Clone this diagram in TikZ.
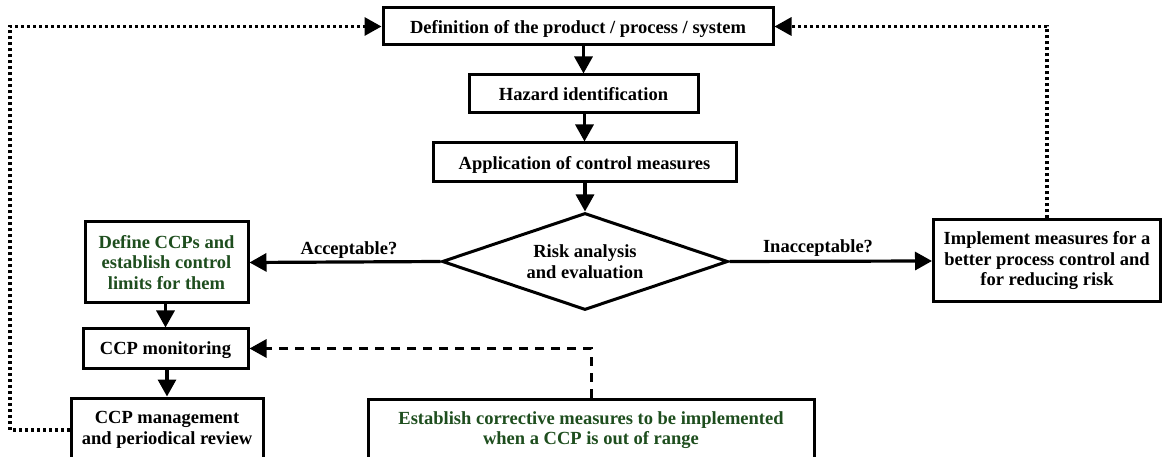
\documentclass[tikz,border=0pt]{standalone}
\usepackage{fontspec}
\setmainfont{Liberation Serif}
\usetikzlibrary{shapes.geometric,arrows.meta}
\definecolor{dkgreen}{RGB}{30,78,30}
\tikzset{
  box/.style={draw, line width=3pt, rectangle, inner sep=0pt, align=center,
    font=\fontsize{18.5}{20.5}\selectfont\bfseries, fill=white},
  oneline/.style={text depth=0pt},
  greentext/.style={text=dkgreen},
  lbl/.style={font=\fontsize{18.5}{20.5}\selectfont\bfseries, inner sep=0pt},
  flow/.style={line width=3.2pt, -{Triangle[length=17pt,width=18pt]}},
  dots/.style={line width=3.2pt, dash pattern=on 3pt off 3pt, -{Triangle[length=17pt,width=18pt]}},
  dashes/.style={line width=3pt, dash pattern=on 9pt off 7pt, -{Triangle[length=17pt,width=18pt]}},
}
\begin{document}
\begin{tikzpicture}[x=1pt,y=-1pt]
\useasboundingbox (0,0) rectangle (1163,457);
\clip (0,0) rectangle (1163,457);
\fill[white] (0,0) rectangle (1163,457);

\node[box, oneline, minimum width=390pt, minimum height=37pt] (b1) at (578,26.5) {Definition of the product / process / system};
\node[box, oneline, minimum width=229pt, minimum height=38pt] (b2) at (583.5,94) {Hazard identification};
\node[box, oneline, minimum width=303pt, minimum height=39pt] (b3) at (584.5,162.5) {Application of control measures};
\node[box, diamond, minimum width=286pt, minimum height=97pt, shape aspect=3] (dia) at (585,261.5) {Risk analysis\\and evaluation};
\node[box, greentext, minimum width=163pt, minimum height=81pt] (b4) at (166.5,262.5) {Define CCPs and\\establish control\\limits for them};
\node[box, minimum width=227pt, minimum height=82pt] (b5) at (1047,261) {Implement measures for a\\better process control and\\for reducing risk};
\node[box, oneline, minimum width=165pt, minimum height=39pt] (b6) at (165.5,348.5) {CCP monitoring};
\node[box, minimum width=192pt, minimum height=64pt] (b7) at (167,430) {CCP management\\and periodical review};
\node[box, greentext, minimum width=446pt, minimum height=62pt] (b8) at (591,430) {Establish corrective measures to be implemented\\when a CCP is out of range};

\node[lbl] (acc) at (349,250) {Acceptable?};
\node[lbl] (inacc) at (818,248) {Inacceptable?};

\coordinate (lx) at (10,0);

\draw[flow] (b2.north |- b1.south) -- (b2.north);
\draw[flow] (b3.north |- b2.south) -- (b3.north);
\draw[flow] (dia.north |- b3.south) -- (dia.north);
\draw[flow] (dia.west) -- (b4.east);
\draw[flow] (dia.east) -- (b5.west);
\draw[flow] (b6.north |- b4.south) -- (b6.north);
\draw[flow] (b7.north |- b6.south) -- (b7.north);

\draw[dots] (b5.north) |- (b1.east);
\draw[dots] (b7.west) -- (b7.west -| lx) |- (b1.west);
\draw[dashes] (b8.north) |- (b6.east);
\end{tikzpicture}
\end{document}
